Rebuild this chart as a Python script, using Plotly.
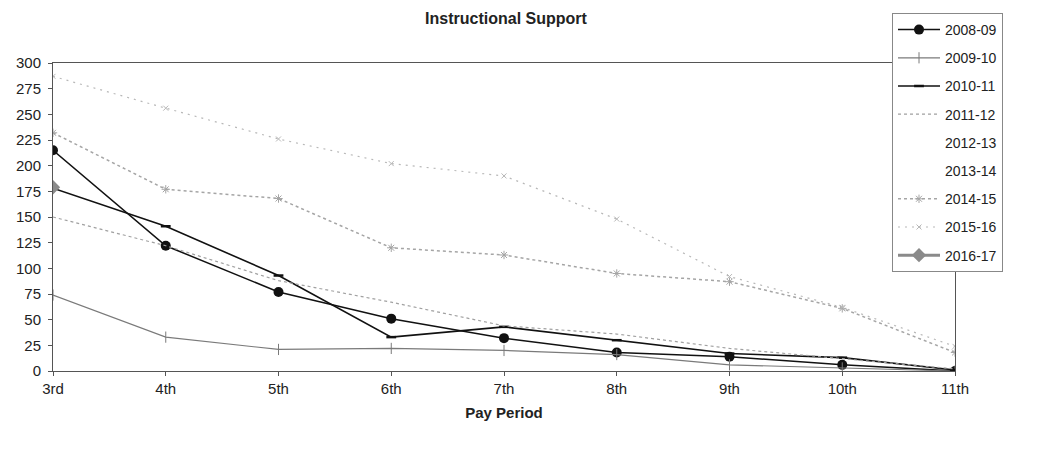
import plotly.graph_objects as go

categories = ["3rd", "4th", "5th", "6th", "7th", "8th", "9th", "10th", "11th"]

s2008_09 = [215, 122, 77, 51, 32, 18, 14, 6, 0]
s2009_10 = [74, 33, 21, 22, 20, 16, 6, 3, 0]
s2010_11 = [178, 141, 93, 33, 43, 30, 17, 13, 1]
s2011_12 = [150, 122, 88, 67, 44, 36, 22, 12, 2]
s2012_13 = [None] * 9
s2013_14 = [None] * 9
s2014_15 = [232, 177, 168, 120, 113, 95, 87, 61, 18]
s2015_16 = [287, 256, 226, 202, 190, 148, 92, 62, 24]
s2016_17 = [179, None, None, None, None, None, None, None, None]

yticks = [0, 25, 50, 75, 100, 125, 150, 175, 200, 225, 250, 275, 300]

FONT = "Liberation Sans, Arial, sans-serif"

# page body has an 8px margin; figure is sized/placed to compensate
W, H = 1046, 445
OFF = 8
PL, PR, PT, PB = 53 - OFF, 955 - OFF, 63 - OFF, 371 - OFF

fig = go.Figure()

def add(name, vals, color, width, dash="solid", symbol=None, msize=6, mcolor=None, mline=None):
    mode = "lines+markers" if symbol else "lines"
    marker = dict(symbol=symbol or "circle", size=msize, color=mcolor or color,
                  line=dict(width=mline if mline is not None else 0, color=mcolor or color))
    fig.add_trace(go.Scatter(
        x=categories, y=vals, name=name, mode=mode,
        line=dict(color=color, width=width, dash=dash),
        marker=marker, legendgroup=name, connectgaps=False,
    ))

add("2008-09", s2008_09, "#111111", 1.5, symbol="circle", msize=10)
add("2009-10", s2009_10, "#7a7a7a", 1.2, symbol="line-ns", msize=8, mline=1)
add("2010-11", s2010_11, "#111111", 1.6, symbol="line-ew", msize=7, mline=2.5)
add("2011-12", s2011_12, "#a0a0a0", 1.2, dash="dot")
add("2012-13", s2012_13, "rgba(0,0,0,0)", 1)
add("2013-14", s2013_14, "rgba(0,0,0,0)", 1)
add("2014-15", s2014_15, "#a5a5a5", 1.5, dash="dot", symbol="asterisk-open", msize=7, mline=1)
add("2015-16", s2015_16, "#b8b8b8", 1.2, dash="2px,5px", symbol="x-thin-open", msize=5, mline=1)
add("2016-17", s2016_17, "#8a8a8a", 3, symbol="diamond", msize=11)

fig.update_layout(
    width=W, height=H,
    margin=dict(l=PL, r=W - PR, t=PT, b=H - PB, autoexpand=False),
    paper_bgcolor="white", plot_bgcolor="white",
    font=dict(family=FONT, size=15, color="#222222"),
    title=dict(text="<b>Instructional Support</b>", x=(506 - OFF) / W, xanchor="center",
               y=1 - (18 - OFF) / H, yanchor="middle", font=dict(size=16, color="#222222")),
    showlegend=True,
    legend=dict(xref="container", yref="container",
                x=(892 - OFF) / W, y=1 - (13 - OFF) / H, xanchor="left", yanchor="top",
                bgcolor="white", bordercolor="#888888", borderwidth=1,
                font=dict(size=14, color="#222222"), tracegroupgap=7,
                itemwidth=42, traceorder="grouped", maxheight=420),
)

fig.update_xaxes(
    type="category", range=[0, 8], showgrid=False, zeroline=False,
    showline=True, linecolor="#555555", linewidth=1, mirror=True,
    ticks="outside", ticklen=4, tickcolor="#555555",
    tickfont=dict(size=15), title=dict(text="<b>Pay Period</b>", font=dict(size=15), standoff=11),
)
fig.update_yaxes(
    range=[0, 300], tickvals=yticks, showgrid=False, zeroline=False,
    showline=True, linecolor="#555555", linewidth=1, mirror=True,
    ticks="outside", ticklen=4, tickcolor="#555555", tickfont=dict(size=15),
    ticklabelstandoff=4,
)

fig.write_html("out.html")
